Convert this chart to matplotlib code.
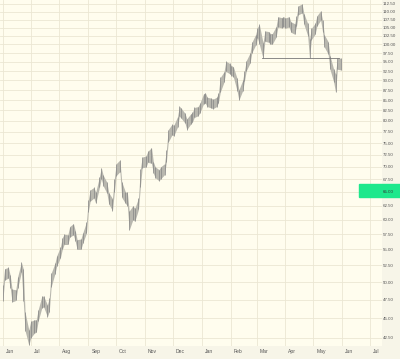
import numpy as np
import pandas as pd
import matplotlib
matplotlib.use("Agg")
import matplotlib.pyplot as plt
import matplotlib.dates as mdates
import matplotlib.ticker as mticker
import matplotlib.transforms as mtrans
from matplotlib.patches import Rectangle

plt.rcParams["font.family"] = ["Liberation Sans Narrow", "Liberation Sans", "DejaVu Sans"]

# price bars, one every two trading days
dates = pd.bdate_range("2010-06-01", periods=131, freq="2B")

highs = [49.6, 52.0, 52.2, 51.0, 49.0, 48.9, 50.8, 53.0, 52.0, 45.8,
         43.5, 44.6, 44.8, 44.8, 46.1, 48.0, 48.0, 46.8, 47.8, 51.3,
         52.8, 54.0, 55.4, 56.9, 57.5, 57.4, 58.8, 59.3, 58.1, 56.6,
         56.7, 57.7, 59.6, 63.5, 65.4, 65.9, 65.0, 68.0, 69.8, 68.3,
         66.9, 64.9, 63.8, 67.6, 70.6, 71.4, 67.0, 65.0, 65.0, 61.5,
         62.5, 62.0, 63.9, 69.5, 72.0, 72.2, 73.2, 74.0, 71.0, 70.0,
         69.4, 70.0, 70.6, 73.5, 78.0, 79.2, 79.0, 81.0, 83.5, 83.0,
         81.8, 80.5, 81.6, 82.0, 83.2, 83.4, 84.2, 86.6, 86.8, 85.7,
         85.5, 85.2, 85.7, 86.8, 90.8, 92.3, 95.2, 94.6, 94.0, 93.7,
         90.6, 87.6, 90.0, 92.6, 95.4, 97.5, 100.6, 102.9, 105.0, 106.0,
         100.5, 104.0, 103.8, 103.2, 103.2, 105.3, 108.4, 108.1, 108.4, 108.0,
         108.4, 106.8, 106.2, 108.6, 111.9, 112.5, 109.4, 106.3, 101.5, 104.8,
         106.3, 108.7, 110.3, 107.3, 102.8, 100.8, 96.8, 93.0, 91.8, 96.2,
         96.0]

lows = [47.3, 50.3, 50.6, 49.2, 47.2, 47.4, 49.1, 51.5, 47.3, 43.4,
        41.6, 42.5, 43.1, 43.2, 44.6, 46.4, 46.5, 45.2, 45.9, 49.3,
        51.2, 52.4, 53.7, 55.0, 55.8, 55.8, 57.0, 57.4, 56.3, 55.0,
        55.0, 56.0, 57.7, 61.4, 63.3, 63.9, 62.9, 65.9, 67.6, 66.2,
        64.8, 62.8, 61.6, 65.0, 68.2, 69.0, 64.0, 62.9, 62.5, 58.2,
        60.0, 59.7, 61.8, 66.0, 69.8, 69.9, 70.9, 70.7, 68.7, 67.8,
        67.2, 67.6, 68.4, 71.0, 75.2, 76.8, 76.6, 78.6, 81.1, 80.6,
        79.5, 78.0, 79.2, 79.7, 80.8, 81.2, 81.9, 84.1, 84.2, 83.4,
        83.1, 82.9, 83.4, 84.4, 87.0, 89.6, 92.4, 91.8, 91.3, 91.0,
        87.4, 85.0, 87.3, 89.9, 92.6, 94.7, 97.6, 99.8, 101.9, 100.0,
        96.0, 100.9, 100.6, 100.0, 100.1, 102.1, 105.2, 104.9, 105.3, 104.8,
        105.2, 103.6, 103.0, 105.5, 109.0, 109.6, 106.0, 102.6, 96.0, 101.4,
        103.0, 105.5, 107.3, 103.8, 99.2, 97.2, 93.0, 89.6, 87.0, 93.0,
        92.8]

yticks = np.arange(42.5, 112.6, 2.5)
support_level = 96.0
support_span = ["2011-03-07", "2011-05-29"]
marker_price = 65.0

fig = plt.figure(figsize=(4.0, 3.59), dpi=100, facecolor="#f7f5e8")
ax = fig.add_axes([0.0, 0.036, 0.955, 0.964])
ax.set_facecolor("#fffdee")

ax.set_yscale("log")
ax.set_ylim(41.5, 113.8)
ax.set_xlim(pd.Timestamp("2010-05-29"), pd.Timestamp("2011-07-14"))

ax.yaxis.set_major_locator(mticker.FixedLocator(yticks))
ax.yaxis.set_minor_locator(mticker.NullLocator())
ax.yaxis.set_major_formatter(mticker.FormatStrFormatter("%.2f"))
ax.yaxis.tick_right()
ax.tick_params(axis="y", length=0, pad=0.6, labelsize=3.2, labelcolor="#555555")

ax.xaxis.set_major_locator(mdates.MonthLocator())
ax.xaxis.set_major_formatter(mdates.DateFormatter("%b"))
ax.tick_params(axis="x", length=0, pad=2, labelsize=3.6, labelcolor="#555555")
offset = mtrans.ScaledTranslation(3 / 100, 0, fig.dpi_scale_trans)
for lbl in ax.get_xticklabels():
    lbl.set_horizontalalignment("left")
    lbl.set_transform(lbl.get_transform() + offset)

ax.grid(True, color="#ebe7d3", lw=0.6)
ax.set_axisbelow(True)
for s in ax.spines.values():
    s.set_visible(False)

# bars
ax.fill_between(dates, lows, highs, color="#b8b7ae", lw=0, zorder=2)
ax.vlines(dates, lows, highs, color="#858585", lw=0.5, zorder=3)

# support line
ax.plot(pd.to_datetime(support_span), [support_level, support_level],
        color="#777777", lw=0.6, zorder=4)

# green price marker on the axis
trans = mtrans.blended_transform_factory(ax.transAxes, ax.transData)
ax.add_patch(Rectangle((0.94, 64.1), 0.11, 2.5, transform=trans,
                       color="#1ee88c", clip_on=False, zorder=5))
lbl_off = mtrans.ScaledTranslation(0.6 / 72, 0, fig.dpi_scale_trans)
ax.text(1.0, marker_price, "%.2f" % marker_price, transform=trans + lbl_off,
        ha="left", va="center", fontsize=3.2, color="#333333",
        clip_on=False, zorder=6)

fig.savefig("out.png", dpi=100, facecolor=fig.get_facecolor())
